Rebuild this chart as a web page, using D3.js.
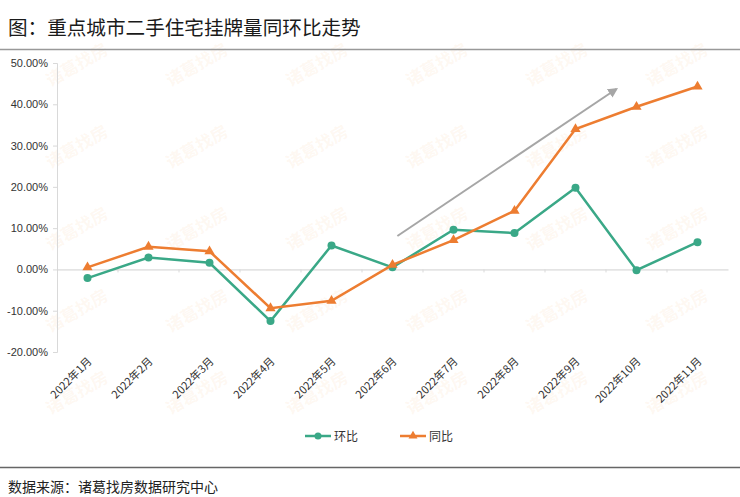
<!DOCTYPE html>
<html>
<head>
<meta charset="utf-8">
<script src="https://cdn.jsdelivr.net/npm/d3@7"></script>
<style>
  body { margin: 0; background: #fff; }
  svg { display: block; font-family: "Noto Sans CJK SC", "Noto Sans", sans-serif; }
</style>
</head>
<body>
<div id="chart"></div>
<script>
const months = ["2022年1月", "2022年2月", "2022年3月", "2022年4月", "2022年5月", "2022年6月",
    "2022年7月", "2022年8月", "2022年9月", "2022年10月", "2022年11月"];
const huanbi = [-2.1, 2.9, 1.6, -12.5, 5.8, 0.5, 9.6, 8.8, 19.8, -0.2, 6.6];
const tongbi = [0.5, 5.5, 4.4, -9.4, -7.6, 1.1, 7.1, 14.2, 34.0, 39.4, 44.3];
const yTicks = [-20, -10, 0, 10, 20, 30, 40, 50];
const trendArrow = [{i: 5.08, v: 8.1}, {i: 8.67, v: 43.7}];

const width = 740, height = 497;
const margin = {top: 63, right: 12, bottom: 145, left: 57};

let svg = d3.select("#chart")
    .append("svg")
    .attr("width", width)
    .attr("height", height);

// watermark
let wm = svg.append("g").attr("fill", "#f6b77a").attr("fill-opacity", 0.1);
for (let r = 0; r < 5; r++) {
    for (let c = 0; c < 6; c++) {
        wm.append("text")
            .attr("transform", "translate(" + (80 + c * 120) + "," + (70 + r * 82) + ") rotate(-30)")
            .attr("text-anchor", "middle")
            .attr("font-size", 17)
            .attr("font-weight", "bold")
            .text("诸葛找房");
    }
}

svg.append("text")
    .attr("x", 8)
    .attr("y", 35)
    .attr("font-size", 19.6)
    .attr("fill", "#1a1a1a")
    .text("图：重点城市二手住宅挂牌量同环比走势");

svg.append("line")
    .attr("x1", 0).attr("x2", width)
    .attr("y1", 49.5).attr("y2", 49.5)
    .attr("stroke", "#999").attr("stroke-width", 1.5);

let x = d3.scaleBand()
    .domain(months)
    .range([margin.left, width - margin.right]);

let xi = d3.scaleLinear()
    .domain([0, months.length - 1])
    .range([x(months[0]) + x.bandwidth() / 2, x(months[months.length - 1]) + x.bandwidth() / 2]);

let y = d3.scaleLinear()
    .domain([-20, 50])
    .range([height - margin.bottom, margin.top]);

// y axis
let yAxis = svg.append("g")
    .attr("transform", "translate(" + margin.left + ",0)")
    .call(d3.axisLeft(y).tickValues(yTicks).tickSize(4).tickPadding(5)
        .tickFormat(d => d.toFixed(2) + "%"));
yAxis.select(".domain").attr("stroke", "#d9d9d9");
yAxis.selectAll(".tick line").attr("stroke", "#d9d9d9");
yAxis.selectAll("text").attr("font-size", 11).attr("fill", "#333")
    .attr("font-family", "'Liberation Sans', sans-serif");

// zero line
let xAxis = svg.append("g")
    .attr("transform", "translate(0," + y(0) + ")")
    .call(d3.axisBottom(x).tickSize(0).tickFormat(""));
xAxis.select(".domain").attr("stroke", "#d0d0d0");

svg.append("g")
    .selectAll("line")
    .data(months.slice(1))
    .join("line")
    .attr("x1", d => x(d)).attr("x2", d => x(d))
    .attr("y1", y(0)).attr("y2", y(0) + 3)
    .attr("stroke", "#d9d9d9");

// x labels
svg.append("g")
    .selectAll("text")
    .data(months)
    .join("text")
    .attr("transform", d => "translate(" + (x(d) + x.bandwidth() / 2 + 5) + "," + (y(-20) + 10) + ") rotate(-45)")
    .attr("text-anchor", "end")
    .attr("font-size", 11)
    .attr("fill", "#333")
    .text(d => d);

// trend arrow
svg.append("defs").append("marker")
    .attr("id", "arrowhead")
    .attr("viewBox", "0 0 10 10")
    .attr("refX", 8).attr("refY", 5)
    .attr("markerWidth", 5).attr("markerHeight", 5)
    .attr("orient", "auto")
    .append("path")
    .attr("d", "M0,0L10,5L0,10z")
    .attr("fill", "#a6a6a6");

svg.append("line")
    .attr("x1", xi(trendArrow[0].i)).attr("y1", y(trendArrow[0].v))
    .attr("x2", xi(trendArrow[1].i)).attr("y2", y(trendArrow[1].v))
    .attr("stroke", "#a6a6a6")
    .attr("stroke-width", 2)
    .attr("marker-end", "url(#arrowhead)");

let line = d3.line()
    .x((d, i) => xi(i))
    .y(d => y(d));

const green = "#3aa887", orange = "#ed7d31";

svg.append("path")
    .datum(huanbi)
    .attr("d", line)
    .attr("fill", "none")
    .attr("stroke", green)
    .attr("stroke-width", 2.5);

svg.append("g")
    .selectAll("circle")
    .data(huanbi)
    .join("circle")
    .attr("cx", (d, i) => xi(i))
    .attr("cy", d => y(d))
    .attr("r", 4)
    .attr("fill", green);

svg.append("path")
    .datum(tongbi)
    .attr("d", line)
    .attr("fill", "none")
    .attr("stroke", orange)
    .attr("stroke-width", 2.5);

let tri = d3.symbol().type(d3.symbolTriangle).size(45);
svg.append("g")
    .selectAll("path")
    .data(tongbi)
    .join("path")
    .attr("transform", (d, i) => "translate(" + xi(i) + "," + y(d) + ")")
    .attr("d", tri)
    .attr("fill", orange);

// legend
let legend = svg.append("g").attr("transform", "translate(305,436)");
let items = [{name: "环比", color: green, shape: "circle"}, {name: "同比", color: orange, shape: "tri"}];
items.forEach((it, k) => {
    let g = legend.append("g").attr("transform", "translate(" + (k * 95) + ",0)");
    g.append("line").attr("x1", 0).attr("x2", 26).attr("y1", 0).attr("y2", 0)
        .attr("stroke", it.color).attr("stroke-width", 2.5);
    if (it.shape === "circle") {
        g.append("circle").attr("cx", 13).attr("cy", 0).attr("r", 3.5).attr("fill", it.color);
    } else {
        g.append("path").attr("transform", "translate(13,0)")
            .attr("d", d3.symbol().type(d3.symbolTriangle).size(35)).attr("fill", it.color);
    }
    g.append("text").attr("x", 29).attr("y", 4.5)
        .attr("font-size", 12).attr("fill", "#333").text(it.name);
});

svg.append("line")
    .attr("x1", 0).attr("x2", width)
    .attr("y1", 467.5).attr("y2", 467.5)
    .attr("stroke", "#666").attr("stroke-width", 1.5);

svg.append("text")
    .attr("x", 8)
    .attr("y", 492)
    .attr("font-size", 14)
    .attr("fill", "#222")
    .text("数据来源：诸葛找房数据研究中心");
</script>
</body>
</html>
